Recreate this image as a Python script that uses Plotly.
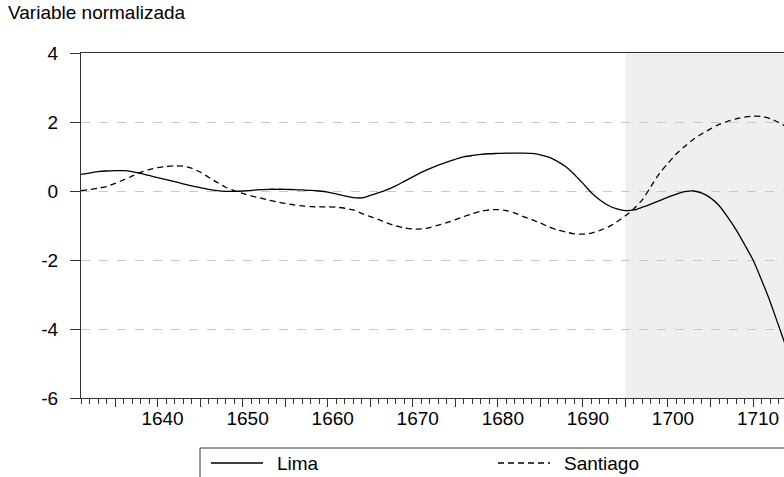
import plotly.graph_objects as go

years = list(range(1631, 1715))
lima = [0.48, 0.52, 0.56, 0.58, 0.59, 0.59, 0.56, 0.51, 0.45, 0.39,
        0.33, 0.27, 0.21, 0.15, 0.10, 0.05, 0.01, -0.01, -0.01, 0.00,
        0.02, 0.04, 0.05, 0.05, 0.05, 0.04, 0.03, 0.02, 0.00, -0.03,
        -0.08, -0.14, -0.19, -0.20, -0.13, -0.05, 0.04, 0.15, 0.28, 0.41,
        0.54, 0.65, 0.75, 0.84, 0.92, 0.99, 1.03, 1.06, 1.08, 1.09,
        1.10, 1.10, 1.10, 1.09, 1.05, 0.98, 0.86, 0.70, 0.48, 0.22,
        -0.05, -0.26, -0.42, -0.52, -0.57, -0.55, -0.47, -0.38, -0.28, -0.18,
        -0.09, -0.02, 0.00, -0.06, -0.20, -0.42, -0.75, -1.12, -1.55, -2.00,
        -2.58, -3.20, -3.90, -4.60]
santiago = [0.01, 0.04, 0.08, 0.13, 0.22, 0.32, 0.43, 0.54, 0.62, 0.68,
            0.71, 0.73, 0.72, 0.66, 0.55, 0.40, 0.25, 0.11, 0.01, -0.07,
            -0.14, -0.20, -0.26, -0.31, -0.36, -0.40, -0.43, -0.45, -0.46, -0.46,
            -0.47, -0.50, -0.55, -0.65, -0.74, -0.83, -0.93, -1.01, -1.07, -1.10,
            -1.10, -1.06, -0.99, -0.92, -0.83, -0.74, -0.66, -0.59, -0.55, -0.54,
            -0.57, -0.64, -0.74, -0.83, -0.93, -1.04, -1.13, -1.19, -1.24, -1.25,
            -1.22, -1.14, -1.04, -0.89, -0.72, -0.51, -0.25, 0.13, 0.51, 0.80,
            1.08, 1.30, 1.50, 1.66, 1.80, 1.93, 2.02, 2.09, 2.14, 2.17,
            2.16, 2.10, 1.99, 1.85]
series_names = ["Lima", "Santiago"]
shade_start = 1695
x_tick_years = [1635, 1640, 1645, 1650, 1655, 1660, 1665, 1670, 1675,
                1680, 1685, 1690, 1695, 1700, 1705, 1710]
x_label_years = [1640, 1650, 1660, 1670, 1680, 1690, 1700, 1710]
y_ticks = [-6, -4, -2, 0, 2, 4]
y_ticktext = ["-6", "-4", "-2", "0", "2", "4"]
y_title = "Variable normalizada"

FONT = "Liberation Sans, Arial, sans-serif"
FS = 19
AX = "#333333"
W, H = 784, 477
PL, PR, PT, PB = 81, 784, 53, 398   # plot-area edges in pixels


def px_x(px):
    return (px - PL) / (PR - PL)


def px_y(py):
    return (PB - py) / (PB - PT)


fig = go.Figure()
dashes = ["solid", "6px,4px"]
for name, vals, dash in zip(series_names, [lima, santiago], dashes):
    fig.add_trace(go.Scatter(x=years, y=vals, name=name, mode="lines",
                             showlegend=False,
                             line=dict(color="black", width=1.3, dash=dash,
                                       shape="spline", smoothing=0.8)))

fig.add_shape(type="rect", xref="x", yref="paper", x0=shade_start, x1=1720,
              y0=0, y1=1, fillcolor="#EFEFEF", line_width=0, layer="below")

# legend box (extends past the right/bottom edge as in the reference)
fig.add_shape(type="rect", xref="paper", yref="paper",
              x0=px_x(200), x1=px_x(820), y0=px_y(448), y1=px_y(500),
              line=dict(color="#333333", width=1), fillcolor="white", layer="above")
legend_items = [(211, 263, 275), (498, 550, 562)]
for (lx0, lx1, tx), name, dash in zip(legend_items, series_names, dashes):
    fig.add_shape(type="line", xref="paper", yref="paper",
                  x0=px_x(lx0), x1=px_x(lx1), y0=px_y(463), y1=px_y(463),
                  line=dict(color="black", width=1.3, dash=dash), layer="above")
    fig.add_annotation(text=name, xref="paper", yref="paper",
                       x=px_x(tx), y=px_y(463), xanchor="left", yanchor="middle",
                       showarrow=False, font=dict(family=FONT, size=FS, color="black"))

ticktext = [str(y) if y in x_label_years else "" for y in x_tick_years]

fig.update_layout(
    width=W, height=H,
    margin=dict(l=PL, r=W - PR, t=PT, b=H - PB, autoexpand=False),
    paper_bgcolor="white", plot_bgcolor="white",
    font=dict(family=FONT, size=FS, color="black"),
    title=dict(text=y_title, x=8 / W, xref="container", xanchor="left",
               y=1 - 12 / H, yref="container", yanchor="middle",
               font=dict(family=FONT, size=FS, color="black")),
    showlegend=False,
    xaxis=dict(range=[1631, 1713.64], showgrid=False, zeroline=False,
               showline=True, linecolor=AX, linewidth=1, mirror=True,
               ticks="outside", ticklen=8, tickcolor=AX, tickwidth=1,
               tickvals=x_tick_years, ticktext=ticktext,
               ticklabelshift=5, ticklabelstandoff=-5,
               minor=dict(ticks="outside", ticklen=4.5, tickcolor=AX,
                          dtick=1, tick0=1631, showgrid=False),
               tickfont=dict(family=FONT, size=FS, color="black")),
    yaxis=dict(range=[-6, 4], tickvals=y_ticks, ticktext=y_ticktext,
               showline=True, linecolor=AX,
               linewidth=1, ticks="outside", ticklen=10, tickcolor=AX,
               showgrid=True, gridcolor="#C8C8C8", griddash="dash", gridwidth=1,
               zeroline=False, ticklabelstandoff=8,
               tickfont=dict(family=FONT, size=FS, color="black")),
)

fig.write_html("out.html",
               config={"displayModeBar": False},
               post_script="document.body.style.margin='0px';"
                           "document.body.style.overflow='hidden';")
